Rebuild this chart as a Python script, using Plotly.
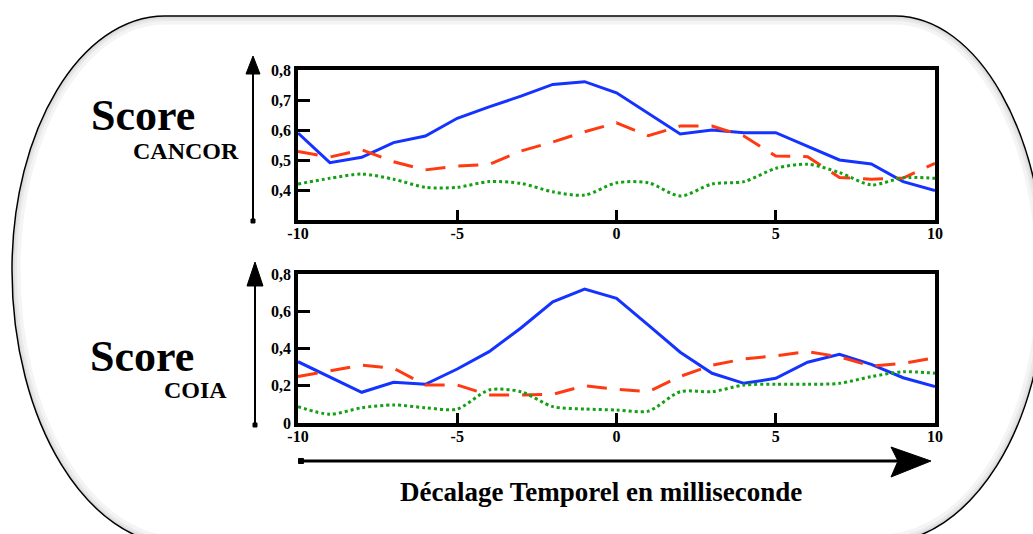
import plotly.graph_objects as go

# ---------------- data ----------------
x_vals = list(range(-10, 11))

cancor_blue = [0.590, 0.491, 0.509, 0.558, 0.580, 0.639, 0.677, 0.713, 0.752, 0.761,
               0.724, 0.655, 0.587, 0.600, 0.591, 0.591, 0.545, 0.500, 0.487, 0.428, 0.398]
cancor_red = [0.528, 0.510, 0.534, 0.494, 0.467, 0.480, 0.485, 0.530, 0.560, 0.594,
              0.624, 0.581, 0.613, 0.613, 0.580, 0.513, 0.511, 0.442, 0.436, 0.440, 0.489]
cancor_green = [0.420, 0.439, 0.453, 0.436, 0.409, 0.409, 0.428, 0.422, 0.394, 0.383,
                0.424, 0.424, 0.380, 0.420, 0.428, 0.472, 0.486, 0.458, 0.417, 0.441, 0.439]

coia_blue = [0.329, 0.247, 0.165, 0.219, 0.208, 0.290, 0.383, 0.510, 0.651, 0.719,
             0.669, 0.525, 0.380, 0.267, 0.213, 0.240, 0.326, 0.369, 0.315, 0.243, 0.195]
coia_red = [0.249, 0.279, 0.311, 0.294, 0.204, 0.204, 0.150, 0.150, 0.154, 0.200,
            0.181, 0.168, 0.250, 0.310, 0.344, 0.361, 0.383, 0.356, 0.305, 0.320, 0.351]
coia_green = [0.088, 0.047, 0.082, 0.097, 0.082, 0.075, 0.177, 0.168, 0.088, 0.075,
              0.070, 0.064, 0.168, 0.168, 0.204, 0.208, 0.208, 0.213, 0.249, 0.275, 0.267]

x_tickvals = [-10, -5, 0, 5, 10]
x_ticktext = ["-10", "-5", "0", "5", "10"]
cancor_tickvals = [0.4, 0.5, 0.6, 0.7, 0.8]
cancor_ticktext = ["0,4", "0,5", "0,6", "0,7", "0,8"]
coia_tickvals = [0, 0.2, 0.4, 0.6, 0.8]
coia_ticktext = ["0", "0,2", "0,4", "0,6", "0,8"]

W, H = 1033, 534
BLUE = "#1433ff"
RED = "#ff3a12"
GREEN = "#14a014"
SERIF = "Liberation Serif"


def px(x):
    return x / W


def py(y):
    return 1 - y / H


def P(x, y):
    return f"{px(x):.5f},{py(y):.5f}"


fig = go.Figure()

series = [
    ("x", "y", cancor_blue, BLUE, "solid", "linear"),
    ("x", "y", cancor_red, RED, "20px,13px", "linear"),
    ("x", "y", cancor_green, GREEN, "dot", "spline"),
    ("x2", "y2", coia_blue, BLUE, "solid", "linear"),
    ("x2", "y2", coia_red, RED, "20px,13px", "linear"),
    ("x2", "y2", coia_green, GREEN, "dot", "spline"),
]
for xa, ya, vals, col, dash, shape in series:
    fig.add_trace(go.Scatter(
        x=x_vals, y=vals, xaxis=xa, yaxis=ya, mode="lines",
        line=dict(color=col, width=3, dash=dash, shape=shape,
                  smoothing=0.8 if shape == "spline" else None),
        showlegend=False, hoverinfo="skip"))

tickfont = dict(family=SERIF, size=16, color="black", weight="bold")
common_axis = dict(showline=True, mirror=True, linecolor="black", linewidth=3.5,
                   ticks="inside", tickcolor="black", tickwidth=3, automargin=False,
                   showgrid=False, zeroline=False, tickfont=tickfont, fixedrange=True)

x_dom = [px(298), px(935)]
fig.update_layout(
    template="none",
    width=W, height=H, autosize=False,
    margin=dict(l=0, r=0, t=0, b=0, pad=0, autoexpand=False),
    paper_bgcolor="white", plot_bgcolor="white",
    showlegend=False,
    xaxis=dict(domain=x_dom, range=[-10, 10], anchor="y", tickvals=x_tickvals,
               ticktext=x_ticktext, ticklen=10, ticklabelstandoff=-4, **common_axis),
    yaxis=dict(domain=[py(220), py(70)], range=[0.3, 0.8], anchor="x",
               tickvals=cancor_tickvals, ticktext=cancor_ticktext, ticklen=12,
               **common_axis),
    xaxis2=dict(domain=x_dom, range=[-10, 10], anchor="y2", tickvals=x_tickvals,
                ticktext=x_ticktext, ticklen=10, ticklabelstandoff=-4, **common_axis),
    yaxis2=dict(domain=[py(423), py(274)], range=[0, 0.8], anchor="x2",
                tickvals=coia_tickvals, ticktext=coia_ticktext, ticklen=12,
                **common_axis),
)

# ---------------- rounded frame ----------------
K = 0.5523


def frame_path(d):
    top, left, right = 16 + d, 12 + d, 1045 - d
    a1, b1 = right - 895, 280 - top
    a2, b2 = right - 880, 263 - d
    a3, b3 = 180 - left, 275 - d
    a4, b4 = 165 - left, 270 - top
    s = "M " + P(165, top) + " L " + P(895, top)
    s += " C " + P(895 + K * a1, top) + " " + P(right, 280 - K * b1) + " " + P(right, 280)
    s += " C " + P(right, 280 + K * b2) + " " + P(880 + K * a2, 280 + b2) + " " + P(880, 280 + b2)
    s += " L " + P(180, 270 + b3)
    s += " C " + P(180 - K * a3, 270 + b3) + " " + P(left, 270 + K * b3) + " " + P(left, 270)
    s += " C " + P(left, 270 - K * b4) + " " + P(165 - K * a4, top) + " " + P(165, top) + " Z"
    return s


shapes = []
for d, w, c in [(5, 7, "#f4f4f4"), (3, 4, "#e9e9e9"), (1.5, 2, "#dcdcdc")]:
    shapes.append(dict(type="path", xref="paper", yref="paper", path=frame_path(d),
                       line=dict(color=c, width=w), layer="below"))
shapes.append(dict(type="path", xref="paper", yref="paper", path=frame_path(0),
                   line=dict(color="black", width=1.5), layer="above"))


def seg(x0, y0, x1, y1, w):
    return dict(type="line", xref="paper", yref="paper", x0=px(x0), y0=py(y0),
                x1=px(x1), y1=py(y1), line=dict(color="black", width=w), layer="above")


def poly(pts):
    path = "M " + " L ".join(P(x, y) for x, y in pts) + " Z"
    return dict(type="path", xref="paper", yref="paper", path=path,
                fillcolor="black", line=dict(color="black", width=1), layer="above")


def square(x, y, s):
    return poly([(x - s, y - s), (x + s, y - s), (x + s, y + s), (x - s, y + s)])


shapes += [seg(253, 221, 253, 70, 2), poly([(253, 56), (246, 74), (260, 74)]), square(253, 221, 2)]
shapes += [seg(255, 425, 255, 280, 2), poly([(255, 262), (247, 286), (263, 286)]), square(255, 425, 2)]
shapes += [seg(301, 461, 900, 461, 3),
           poly([(931, 461), (891, 447), (898, 461), (891, 477)]), square(301, 461, 2.5)]

fig.update_layout(shapes=shapes)


def txt(x, y, s, size, h):
    return dict(x=px(x), y=py(y), xref="paper", yref="paper", text=s, showarrow=False,
                xanchor="center", yanchor="middle", height=h,
                font=dict(family=SERIF, size=size, color="black", weight="bold"))


fig.update_layout(annotations=[
    txt(143, 115, "Score", 44, 38),
    txt(186, 151, "CANCOR", 24, 20),
    txt(142, 356, "Score", 44, 38),
    txt(195, 390, "COIA", 24, 20),
    txt(601, 492, "Décalage Temporel en milliseconde", 27, 32),
])

fig.write_html("out.html")
